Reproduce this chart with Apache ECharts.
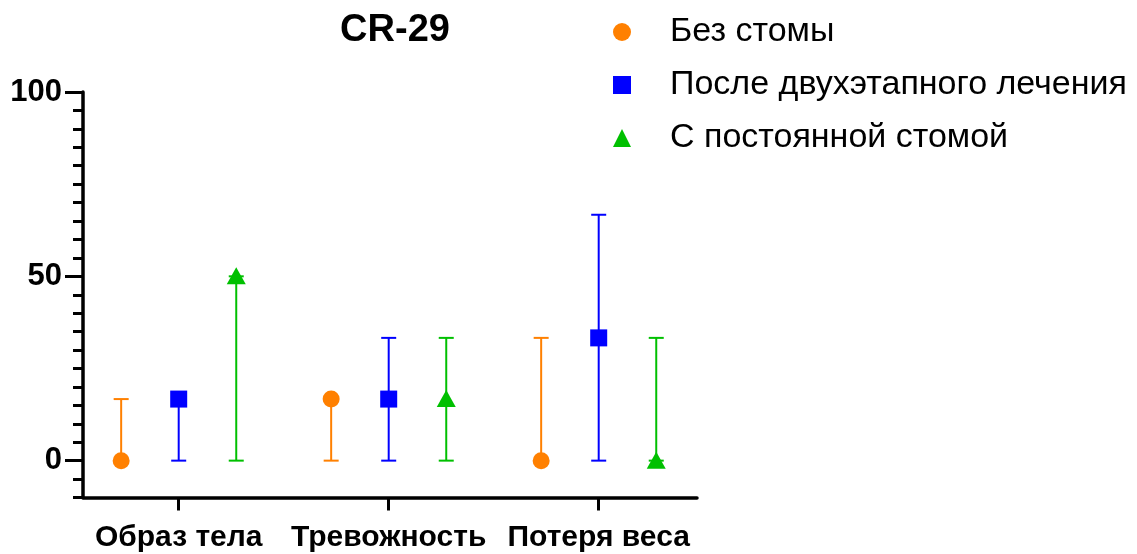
<!DOCTYPE html>
<html>
<head>
<meta charset="utf-8">
<script src="https://cdn.jsdelivr.net/npm/echarts@6/dist/echarts.min.js"></script>
<style>html,body{margin:0;padding:0;background:#fff}#chart{width:1137px;height:554px}</style>
</head>
<body>
<div id="chart"></div>
<script>
var title = 'CR-29';
var categories = ['Образ тела', 'Тревожность', 'Потеря веса'];
var seriesNames = ['Без стомы', 'После двухэтапного лечения', 'С постоянной стомой'];
var yTicks = [0, 50, 100];

var noStomaMedian = [0, 16.7, 0];
var noStomaLow = [0, 0, 0];
var noStomaHigh = [16.7, 16.7, 33.3];

var twoStageMedian = [16.7, 16.7, 33.3];
var twoStageLow = [0, 0, 0];
var twoStageHigh = [16.7, 33.3, 66.7];

var permanentMedian = [50, 16.7, 0];
var permanentLow = [0, 0, 0];
var permanentHigh = [50, 33.3, 33.3];

var FONT = '"Liberation Sans", Arial, sans-serif';
var colors = ['#FF8000', '#0000FF', '#00C000'];
var shapes = ['circle', 'rect', 'triangle'];
var offsets = [-0.274, 0, 0.274];

function rows(med, lo, hi) {
  return categories.map(function (c, i) { return [i, med[i], lo[i], hi[i]]; });
}

function makeRender(k) {
  return function (params, api) {
    var ci = api.value(0);
    var band = api.size([1, 0])[0];
    var pm = api.coord([ci, api.value(1)]);
    var pl = api.coord([ci, api.value(2)]);
    var ph = api.coord([ci, api.value(3)]);
    var x = pm[0] + band * offsets[k];
    var cap = 7.5;
    var c = colors[k];
    var st = { stroke: c, lineWidth: 2 };
    var ch = [
      { type: 'line', shape: { x1: x, y1: pl[1], x2: x, y2: ph[1] }, style: st },
      { type: 'line', shape: { x1: x - cap, y1: pl[1], x2: x + cap, y2: pl[1] }, style: st },
      { type: 'line', shape: { x1: x - cap, y1: ph[1], x2: x + cap, y2: ph[1] }, style: st }
    ];
    var y = pm[1];
    if (shapes[k] === 'circle') {
      ch.push({ type: 'circle', shape: { cx: x, cy: y, r: 8.5 }, style: { fill: c } });
    } else if (shapes[k] === 'rect') {
      ch.push({ type: 'rect', shape: { x: x - 8.5, y: y - 8.5, width: 17, height: 17 }, style: { fill: c } });
    } else {
      ch.push({ type: 'polygon', shape: { points: [[x, y - 9], [x - 9.5, y + 8], [x + 9.5, y + 8]] }, style: { fill: c } });
    }
    return { type: 'group', children: ch };
  };
}

var chart = echarts.init(document.getElementById('chart'));
var hidden = { show: false };
var option = {
  animation: false,
  backgroundColor: '#fff',
  title: {
    text: title, left: 390, textAlign: 'center', top: 7,
    textStyle: { fontFamily: FONT, fontWeight: 'bold', fontSize: 38, color: '#000' }
  },
  legend: {
    orient: 'vertical', left: 608, top: 10,
    itemWidth: 18, itemHeight: 18, itemGap: 19,
    textStyle: { fontFamily: FONT, fontSize: 34, lineHeight: 34, color: '#000', padding: [0, 0, 0, 34] },
    data: seriesNames.map(function (n, i) {
      return { name: n, icon: shapes[i], itemStyle: { color: colors[i] } };
    })
  },
  grid: [
    { left: 73.7, width: 630, top: 92, bottom: 56.5 },
    { left: 83, right: 1137 - 697, top: 92, bottom: 56.5 },
    { left: 83, right: 1137 - 697, top: 92, bottom: 93.3 }
  ],
  xAxis: [
    {
      gridIndex: 0, type: 'category', data: categories, position: 'bottom',
      axisLine: { show: false, onZero: false },
      axisTick: { show: true, alignWithLabel: true, length: 13, lineStyle: { color: '#000', width: 3 } },
      axisLabel: { interval: 0, margin: 25, fontFamily: FONT, fontWeight: 'bold', fontSize: 30, color: '#000' }
    },
    {
      gridIndex: 1, type: 'value', min: 0, max: 1,
      axisLine: { show: true, onZero: false, lineStyle: { color: '#000', width: 3.5 } },
      axisTick: hidden, axisLabel: hidden, splitLine: hidden
    },
    { gridIndex: 2, type: 'value', min: 0, max: 1, show: false }
  ],
  yAxis: [
    { gridIndex: 0, type: 'value', min: -10, max: 100, show: false },
    {
      gridIndex: 1, type: 'value', min: -10, max: 100, interval: 5,
      axisLine: { show: true, lineStyle: { color: '#000', width: 3.5 } },
      axisTick: { show: true, length: 10, lineStyle: { color: '#000', width: 3 } },
      axisLabel: hidden, splitLine: hidden
    },
    {
      gridIndex: 2, type: 'value', min: yTicks[0], max: yTicks[yTicks.length - 1], interval: 50,
      axisLine: hidden,
      axisTick: { show: true, length: 18, lineStyle: { color: '#000', width: 3 } },
      axisLabel: { margin: 21, fontFamily: FONT, fontWeight: 'bold', fontSize: 31, color: '#000' },
      splitLine: hidden
    }
  ],
  series: [
    { name: seriesNames[0], type: 'custom', xAxisIndex: 0, yAxisIndex: 0, itemStyle: { color: colors[0] },
      renderItem: makeRender(0), data: rows(noStomaMedian, noStomaLow, noStomaHigh) },
    { name: seriesNames[1], type: 'custom', xAxisIndex: 0, yAxisIndex: 0, itemStyle: { color: colors[1] },
      renderItem: makeRender(1), data: rows(twoStageMedian, twoStageLow, twoStageHigh) },
    { name: seriesNames[2], type: 'custom', xAxisIndex: 0, yAxisIndex: 0, itemStyle: { color: colors[2] },
      renderItem: makeRender(2), data: rows(permanentMedian, permanentLow, permanentHigh) }
  ]
};
chart.setOption(option);
</script>
</body>
</html>
